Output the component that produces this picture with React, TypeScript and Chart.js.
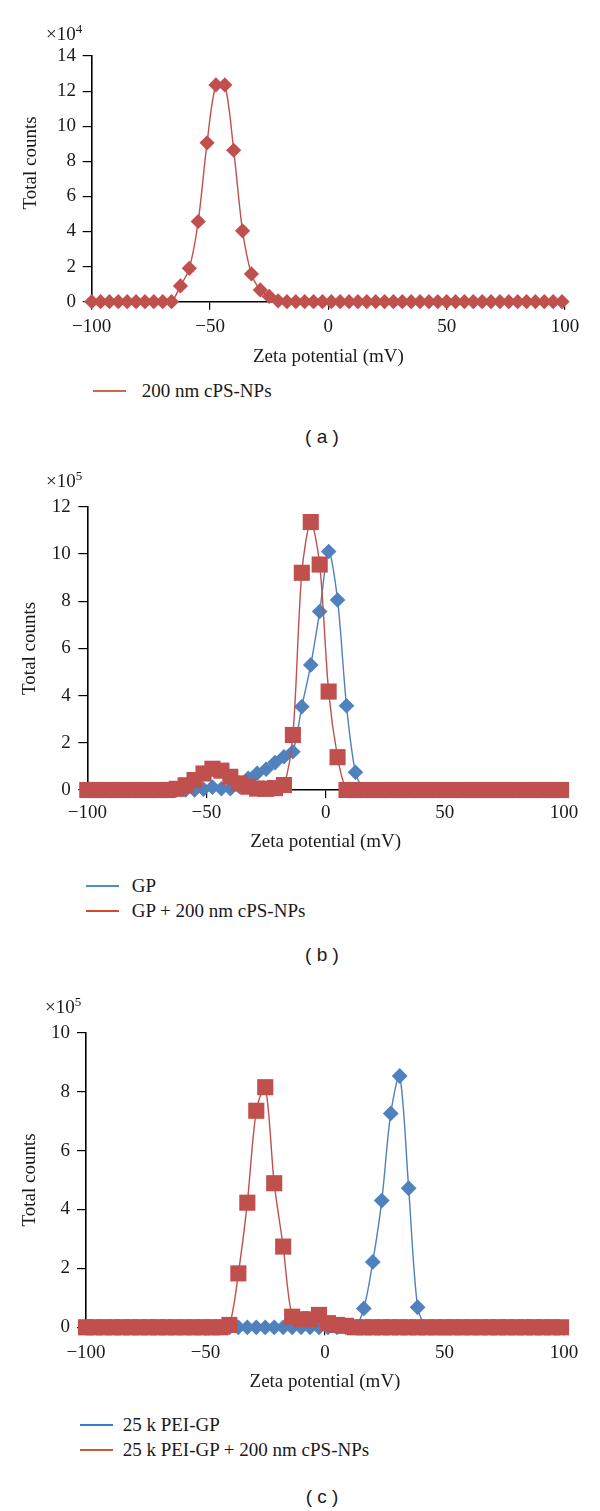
import React, { useEffect, useRef } from "react";
import { Chart, registerables } from "chart.js";

Chart.register(...registerables);

// ---- data ----
// Zeta potential bins (mV)
const ZETA_MV = [
  -100, -96.25, -92.5, -88.75, -85, -81.25, -77.5, -73.75, -70, -66.25,
  -62.5, -58.75, -55, -51.25, -47.5, -43.75, -40, -36.25, -32.5, -28.75,
  -25, -21.25, -17.5, -13.75, -10, -6.25, -2.5, 1.25, 5, 8.75,
  12.5, 16.25, 20, 23.75, 27.5, 31.25, 35, 38.75, 42.5, 46.25,
  50, 53.75, 57.5, 61.25, 65, 68.75, 72.5, 76.25, 80, 83.75,
  87.5, 91.25, 95, 98.75,
];

const X_TICKS = [-100, -50, 0, 50, 100];

// (a) total counts, x10^4
const A_CPS_NPS = [
  0, 0, 0, 0, 0, 0, 0, 0, 0, 0,
  0.9, 1.9, 4.57, 9.05, 12.35, 12.35, 8.63, 4.04, 1.58, 0.67,
  0.3, 0.05, 0, 0, 0, 0, 0, 0, 0, 0,
  0, 0, 0, 0, 0, 0, 0, 0, 0, 0,
  0, 0, 0, 0, 0, 0, 0, 0, 0, 0,
  0, 0, 0, 0,
];
const A_Y_TICKS = [0, 2, 4, 6, 8, 10, 12, 14];

// (b) total counts, x10^5
const B_GP = [
  0, 0, 0, 0, 0, 0, 0, 0, 0, 0,
  0, 0, 0, 0.03, 0.12, 0.05, 0.05, 0.15, 0.5, 0.71,
  0.88, 1.16, 1.41, 1.62, 3.53, 5.3, 7.56, 10.1, 8.05, 3.57,
  0.75, 0, 0, 0, 0, 0, 0, 0, 0, 0,
  0, 0, 0, 0, 0, 0, 0, 0, 0, 0,
  0, 0, 0, 0,
];
const B_GP_CPS_NPS = [
  0, 0, 0, 0, 0, 0, 0, 0, 0, 0,
  0.05, 0.2, 0.42, 0.7, 0.9, 0.82, 0.56, 0.28, 0.14, 0.06,
  0.05, 0.08, 0.21, 2.33, 9.2, 11.35, 9.55, 4.17, 1.39, 0,
  0, 0, 0, 0, 0, 0, 0, 0, 0, 0,
  0, 0, 0, 0, 0, 0, 0, 0, 0, 0,
  0, 0, 0, 0,
];
const B_Y_TICKS = [0, 2, 4, 6, 8, 10, 12];

// (c) total counts, x10^5
const C_PEI_GP = [
  0, 0, 0, 0, 0, 0, 0, 0, 0, 0,
  0, 0, 0, 0, 0, 0, 0, 0, 0, 0,
  0, 0, 0, 0, 0, 0, 0, 0, 0, 0,
  0, 0.64, 2.22, 4.3, 7.26, 8.53, 4.72, 0.68, 0, 0,
  0, 0, 0, 0, 0, 0, 0, 0, 0, 0,
  0, 0, 0, 0,
];
const C_PEI_GP_CPS_NPS = [
  0, 0, 0, 0, 0, 0, 0, 0, 0, 0,
  0, 0, 0, 0, 0, 0, 0.08, 1.83, 4.23, 7.35,
  8.15, 4.89, 2.74, 0.36, 0.27, 0.27, 0.42, 0.14, 0.08, 0.05,
  0, 0, 0, 0, 0, 0, 0, 0, 0, 0,
  0, 0, 0, 0, 0, 0, 0, 0, 0, 0,
  0, 0, 0, 0,
];
const C_Y_TICKS = [0, 2, 4, 6, 8, 10];

// ---- styles ----
const SERIF = "'Liberation Serif', 'Times New Roman', serif";
const SANS = "'Liberation Sans', Arial, sans-serif";
const RED = "#C0504D";
const BLUE = "#4F81BD";
const INK = "#1a1a1a";

type Series = {
  label: string;
  values: number[];
  color: string;
  legendColor: string;
  marker: "rectRot" | "rect";
  radius: number;
  order: number;
};

type Panel = {
  tag: string;
  exponent: string;
  yTicks: number[];
  canvasTop: number;
  left: number;
  right: number;
  top: number;
  bottom: number;
  xTickPad: number;
  xAxisH: number;
  yTickPad: number;
  expX: number;
  expY: number;
  legendLineX: number;
  legendLineW: number;
  legendTextX: number;
  legendY: number[];
  tagY: number;
  yTitleHtml?: { x: number; y: number };
  series: Series[];
};

const PANELS: Panel[] = [
  {
    tag: "( a )",
    exponent: "4",
    yTicks: A_Y_TICKS,
    canvasTop: 0,
    left: 91.7,
    right: 565,
    top: 56,
    bottom: 301.7,
    xTickPad: 5.6,
    xAxisH: 66.4,
    yTickPad: 6.7,
    expX: 46,
    expY: 33.5,
    legendLineX: 93.3,
    legendLineW: 33,
    legendTextX: 141.7,
    legendY: [390.7],
    tagY: 436.7,
    yTitleHtml: { x: 29.5, y: 163 },
    series: [
      { label: "200 nm cPS-NPs", values: A_CPS_NPS, color: RED, legendColor: "#D0694B", marker: "rectRot", radius: 7.6, order: 1 },
    ],
  },
  {
    tag: "( b )",
    exponent: "5",
    yTicks: B_Y_TICKS,
    canvasTop: 460,
    left: 87.3,
    right: 564,
    top: 506.7,
    bottom: 790,
    xTickPad: 3.9,
    xAxisH: 63.1,
    yTickPad: 7.6,
    expX: 46,
    expY: 481,
    legendLineX: 86,
    legendLineW: 33,
    legendTextX: 131.7,
    legendY: [886, 911],
    tagY: 955,
    series: [
      { label: "GP", values: B_GP, color: BLUE, legendColor: "#4A90C8", marker: "rectRot", radius: 7.8, order: 2 },
      { label: "GP + 200 nm cPS-NPs", values: B_GP_CPS_NPS, color: RED, legendColor: "#D64A26", marker: "rect", radius: 11.4, order: 1 },
    ],
  },
  {
    tag: "( c )",
    exponent: "5",
    yTicks: C_Y_TICKS,
    canvasTop: 990,
    left: 86,
    right: 564,
    top: 1032.7,
    bottom: 1327.3,
    xTickPad: 6,
    xAxisH: 65.8,
    yTickPad: 7,
    expX: 45,
    expY: 1006.7,
    legendLineX: 80,
    legendLineW: 33,
    legendTextX: 122.7,
    legendY: [1425, 1450],
    tagY: 1496.7,
    series: [
      { label: "25 k PEI-GP", values: C_PEI_GP, color: BLUE, legendColor: "#2E7ED6", marker: "rectRot", radius: 7.9, order: 2 },
      { label: "25 k PEI-GP + 200 nm cPS-NPs", values: C_PEI_GP_CPS_NPS, color: RED, legendColor: "#C85A36", marker: "rect", radius: 11.4, order: 1 },
    ],
  },
];

const fmtTick = (v: number | string) => {
  const n = Number(v);
  return n < 0 ? "\u2212" + Math.abs(n) : String(n);
};

function PanelChart({ p }: { p: Panel }) {
  const ref = useRef<HTMLCanvasElement | null>(null);
  const needed = p.bottom + p.xAxisH - p.canvasTop;
  const h = Math.ceil(needed);
  const padBottom = h - needed;

  useEffect(() => {
    const canvas = ref.current;
    if (!canvas) return;
    const chart = new Chart(canvas, {
      type: "line",
      data: {
        datasets: p.series.map((s) => ({
          label: s.label,
          data: ZETA_MV.map((x, i) => ({ x, y: s.values[i] })),
          borderColor: s.color,
          backgroundColor: s.color,
          borderWidth: 1.4,
          tension: 0.3,
          fill: false,
          pointStyle: s.marker,
          pointRadius: s.radius,
          pointHoverRadius: s.radius,
          pointBackgroundColor: s.color,
          pointBorderColor: s.color,
          pointBorderWidth: 0,
          order: s.order,
          clip: false as any,
        })),
      },
      options: {
        animation: false,
        responsive: false,
        maintainAspectRatio: false,
        devicePixelRatio: 1,
        events: [],
        layout: {
          padding: { left: 0, right: 600 - p.right, top: p.top - p.canvasTop, bottom: padBottom },
        },
        plugins: {
          legend: { display: false },
          tooltip: { enabled: false },
          title: { display: false },
        },
        scales: {
          x: {
            type: "linear",
            min: -100,
            max: 100,
            afterBuildTicks: (scale: any) => {
              scale.ticks = X_TICKS.map((v) => ({ value: v }));
            },
            afterFit: (scale: any) => {
              scale.height = p.xAxisH;
            },
            grid: { drawOnChartArea: false, drawTicks: true, tickLength: 8, color: "#000", lineWidth: 1.2 },
            border: { display: true, color: "#000", width: 1.5 },
            ticks: {
              padding: p.xTickPad,
              color: INK,
              autoSkip: false,
              maxRotation: 0,
              font: { family: SERIF, size: 19 },
              callback: (v: any) => fmtTick(v),
            },
            title: {
              display: true,
              text: "Zeta potential (mV)",
              color: INK,
              font: { family: SERIF, size: 19 },
              padding: 0,
            },
          },
          y: {
            type: "linear",
            min: 0,
            max: p.yTicks[p.yTicks.length - 1],
            afterBuildTicks: (scale: any) => {
              scale.ticks = p.yTicks.map((v) => ({ value: v }));
            },
            afterFit: (scale: any) => {
              scale.width = p.left;
            },
            grid: { drawOnChartArea: false, drawTicks: true, tickLength: 9, color: "#000", lineWidth: 1.2 },
            border: { display: true, color: "#000", width: 1.6 },
            ticks: {
              padding: p.yTickPad,
              color: INK,
              font: { family: SERIF, size: 19 },
              callback: (v: any) => fmtTick(v),
            },
            title: {
              display: !p.yTitleHtml,
              text: "Total counts",
              color: INK,
              font: { family: SERIF, size: 19 },
              padding: { top: 18.6, bottom: 0 },
            },
          },
        },
      } as any,
    });
    return () => chart.destroy();
  }, []);

  return (
    <canvas
      ref={ref}
      width={600}
      height={h}
      style={{ position: "absolute", left: 0, top: p.canvasTop, width: 600, height: h }}
    />
  );
}

function PanelOverlay({ p }: { p: Panel }) {
  return (
    <>
      <div
        style={{
          position: "absolute",
          left: p.expX,
          top: p.expY - 11,
          height: 22,
          lineHeight: "22px",
          font: `19px ${SERIF}`,
          color: INK,
          whiteSpace: "nowrap",
        }}
      >
        ×10
        <span style={{ fontSize: 13, position: "relative", top: -7 }}>{p.exponent}</span>
      </div>
      {p.yTitleHtml && (
        <div
          style={{
            position: "absolute",
            left: p.yTitleHtml.x,
            top: p.yTitleHtml.y,
            transform: "translate(-50%, -50%) rotate(-90deg)",
            font: `19px ${SERIF}`,
            lineHeight: "22px",
            color: INK,
            whiteSpace: "nowrap",
          }}
        >
          Total counts
        </div>
      )}
      {p.series.map((s, i) => (
        <React.Fragment key={s.label}>
          <div
            style={{
              position: "absolute",
              left: p.legendLineX,
              top: p.legendY[i] - 1,
              width: p.legendLineW,
              height: 2,
              background: s.legendColor,
            }}
          />
          <div
            style={{
              position: "absolute",
              left: p.legendTextX,
              top: p.legendY[i] - 11,
              height: 22,
              lineHeight: "22px",
              font: `19px ${SERIF}`,
              color: INK,
              whiteSpace: "nowrap",
            }}
          >
            {s.label}
          </div>
        </React.Fragment>
      ))}
      <div
        style={{
          position: "absolute",
          left: 222,
          width: 200,
          top: p.tagY - 11,
          height: 22,
          lineHeight: "22px",
          textAlign: "center",
          font: `19px ${SANS}`,
          color: INK,
          whiteSpace: "pre",
        }}
      >
        {p.tag}
      </div>
    </>
  );
}

export default function App() {
  return (
    <div
      style={{
        position: "absolute",
        left: 0,
        top: 0,
        width: 600,
        height: 1511,
        background: "#fff",
        overflow: "hidden",
      }}
    >
      {PANELS.map((p) => (
        <React.Fragment key={p.tag}>
          <PanelChart p={p} />
          <PanelOverlay p={p} />
        </React.Fragment>
      ))}
    </div>
  );
}
